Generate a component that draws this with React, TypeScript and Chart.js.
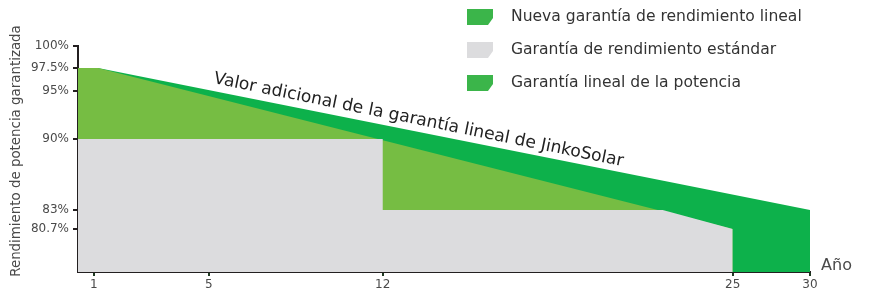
import React, { useEffect, useRef } from 'react';
import { Chart, registerables, LinearScale } from 'chart.js';

// ---------- data ----------
const X_TICKS = [1, 5, 12, 25, 30];
const Y_TICKS = [80.7, 83, 90, 95, 97.5, 100];

const NEW_LINEAR_YEARS = [0, 1.15, 30];
const NEW_LINEAR_VALUES = [97.5, 97.5, 83];

const LINEAR_YEARS = [0, 1.15, 25];
const LINEAR_VALUES = [97.5, 97.5, 80.7];

const STANDARD_YEARS = [0, 12, 12, 22.4, 25];
const STANDARD_VALUES = [90, 90, 83, 83, 80.7];

const LEGEND_LABELS = [
  'Nueva garantía de rendimiento lineal',
  'Garantía de rendimiento estándar',
  'Garantía lineal de la potencia',
];
const Y_TITLE = 'Rendimiento de potencia garantizada';
const X_TITLE = 'Año';
const ANNOTATION = 'Valor adicional de la garantía lineal de JinkoSolar';

// ---------- styles / layout ----------
const DARK = '#0db14b';
const LIGHT = '#76bd43';
const GRAY = '#dcdcde';
const SWATCH = '#3bb54a';
const TEXT = '#4a4a4a';
const AXIS = '#231f20';
const FONT = 'DejaVu Sans';

// the original's axes are drawn with uneven spacing between ticks
const X_BREAKS = { values: [0, 1, 5, 12, 25, 30], fractions: [0, 0.0215, 0.1786, 0.4163, 0.8944, 1] };
const Y_BREAKS = { values: [76, 80.7, 83, 90, 95, 97.5, 100], fractions: [0, 0.1903, 0.2743, 0.5885, 0.8009, 0.9027, 1] };

function interp(v: number, xs: number[], ys: number[]) {
  const n = xs.length - 1;
  if (v <= xs[0]) return ys[0] + ((v - xs[0]) * (ys[1] - ys[0])) / (xs[1] - xs[0]);
  for (let i = 1; i <= n; i++) {
    if (v <= xs[i]) {
      const t = (v - xs[i - 1]) / (xs[i] - xs[i - 1]);
      return ys[i - 1] + t * (ys[i] - ys[i - 1]);
    }
  }
  return ys[n] + ((v - xs[n]) * (ys[n] - ys[n - 1])) / (xs[n] - xs[n - 1]);
}

class BrokenLinearScale extends LinearScale {
  static id = 'brokenLinear';
  static defaults = LinearScale.defaults;
  breaks() {
    return (this as any).id === 'x' ? X_BREAKS : Y_BREAKS;
  }
  getPixelForValue(value: any) {
    if (value === null || value === undefined || isNaN(value)) return NaN;
    const b = this.breaks();
    return this.getPixelForDecimal(interp(value, b.values, b.fractions));
  }
  getValueForPixel(pixel: number) {
    const b = this.breaks();
    return interp(this.getDecimalForPixel(pixel), b.fractions, b.values);
  }
}

Chart.register(...registerables, BrokenLinearScale);

function fitSize(ctx: CanvasRenderingContext2D, text: string, target: number) {
  ctx.font = `20px "${FONT}"`;
  return (20 * target) / ctx.measureText(text).width;
}

const overlayPlugin = {
  id: 'overlay',
  afterDraw(chart: any) {
    const ctx: CanvasRenderingContext2D = chart.ctx;
    ctx.save();
    ctx.fillStyle = TEXT;

    // y title
    let s = fitSize(ctx, Y_TITLE, 252);
    ctx.save();
    ctx.translate(17, 151);
    ctx.rotate(-Math.PI / 2);
    ctx.font = `${s}px "${FONT}"`;
    ctx.textAlign = 'center';
    ctx.textBaseline = 'middle';
    ctx.fillText(Y_TITLE, 0, 0);
    ctx.restore();

    // x title
    s = fitSize(ctx, X_TITLE, 31);
    ctx.font = `${s}px "${FONT}"`;
    ctx.textAlign = 'left';
    ctx.textBaseline = 'middle';
    ctx.fillText(X_TITLE, 821, 266);

    // annotation along the band
    s = fitSize(ctx, ANNOTATION, 418);
    ctx.save();
    ctx.translate(213, 83);
    ctx.rotate(Math.atan2(83, 409));
    ctx.font = `${s}px "${FONT}"`;
    ctx.fillStyle = '#222222';
    ctx.textAlign = 'left';
    ctx.textBaseline = 'alphabetic';
    ctx.fillText(ANNOTATION, 0, 0);
    ctx.restore();

    // legend
    const colors = [SWATCH, GRAY, SWATCH];
    const ys = [17, 50, 83];
    s = fitSize(ctx, LEGEND_LABELS[0], 291);
    LEGEND_LABELS.forEach((label, i) => {
      const y = ys[i];
      ctx.fillStyle = colors[i];
      ctx.beginPath();
      ctx.moveTo(467, y - 8);
      ctx.lineTo(493, y - 8);
      ctx.lineTo(493, y + 1);
      ctx.lineTo(488, y + 8);
      ctx.lineTo(467, y + 8);
      ctx.closePath();
      ctx.fill();
      ctx.fillStyle = '#333333';
      ctx.font = `${s}px "${FONT}"`;
      ctx.textAlign = 'left';
      ctx.textBaseline = 'middle';
      ctx.fillText(label, 511, y);
    });
    ctx.restore();
  },
};

function pts(xs: number[], ys: number[]) {
  return xs.map((x, i) => ({ x, y: ys[i] }));
}

export default function App() {
  const ref = useRef<HTMLCanvasElement>(null);
  useEffect(() => {
    const canvas = ref.current;
    if (!canvas) return;
    const common = {
      fill: 'start',
      borderWidth: 0,
      borderColor: 'rgba(0,0,0,0)',
      pointRadius: 0,
      tension: 0,
    };
    const chart = new Chart(canvas, {
      type: 'line',
      data: {
        datasets: [
          { ...common, label: LEGEND_LABELS[1], data: pts(STANDARD_YEARS, STANDARD_VALUES), backgroundColor: GRAY },
          { ...common, label: LEGEND_LABELS[2], data: pts(LINEAR_YEARS, LINEAR_VALUES), backgroundColor: LIGHT },
          { ...common, label: LEGEND_LABELS[0], data: pts(NEW_LINEAR_YEARS, NEW_LINEAR_VALUES), backgroundColor: DARK },
        ] as any,
      },
      options: {
        animation: false,
        responsive: true,
        maintainAspectRatio: false,
        events: [],
        layout: { padding: { left: 0, top: 46, right: 59, bottom: 0 } },
        plugins: { legend: { display: false }, tooltip: { enabled: false } },
        scales: {
          x: {
            type: 'brokenLinear' as any,
            min: 0,
            max: 30,
            afterBuildTicks: (sc: any) => {
              sc.ticks = X_TICKS.map((v) => ({ value: v }));
            },
            afterFit: (sc: any) => {
              sc.height = 18;
            },
            border: { display: true, color: AXIS, width: 2 },
            grid: { drawOnChartArea: false, drawTicks: true, tickLength: 4, color: '#1f3a22', lineWidth: 2 },
            ticks: {
              autoSkip: false,
              maxRotation: 0,
              padding: 2,
              color: TEXT,
              font: { family: FONT, size: 12 },
              callback: (v: any) => String(v),
            },
          },
          y: {
            type: 'brokenLinear' as any,
            min: 76,
            max: 100,
            afterBuildTicks: (sc: any) => {
              sc.ticks = Y_TICKS.map((v) => ({ value: v }));
            },
            afterFit: (sc: any) => {
              sc.width = 78;
            },
            border: { display: true, color: AXIS, width: 2 },
            grid: { drawOnChartArea: false, drawTicks: true, tickLength: 5, color: AXIS, lineWidth: 2 },
            ticks: {
              autoSkip: false,
              padding: 4,
              color: TEXT,
              font: { family: FONT, size: 12 },
              callback: (v: any) => v + '%',
            },
          },
        } as any,
      },
      plugins: [overlayPlugin],
    });
    return () => chart.destroy();
  }, []);
  return (
    <div style={{ position: 'fixed', left: 0, top: 0, width: 869, height: 290, background: '#fff' }}>
      <canvas ref={ref} />
    </div>
  );
}
